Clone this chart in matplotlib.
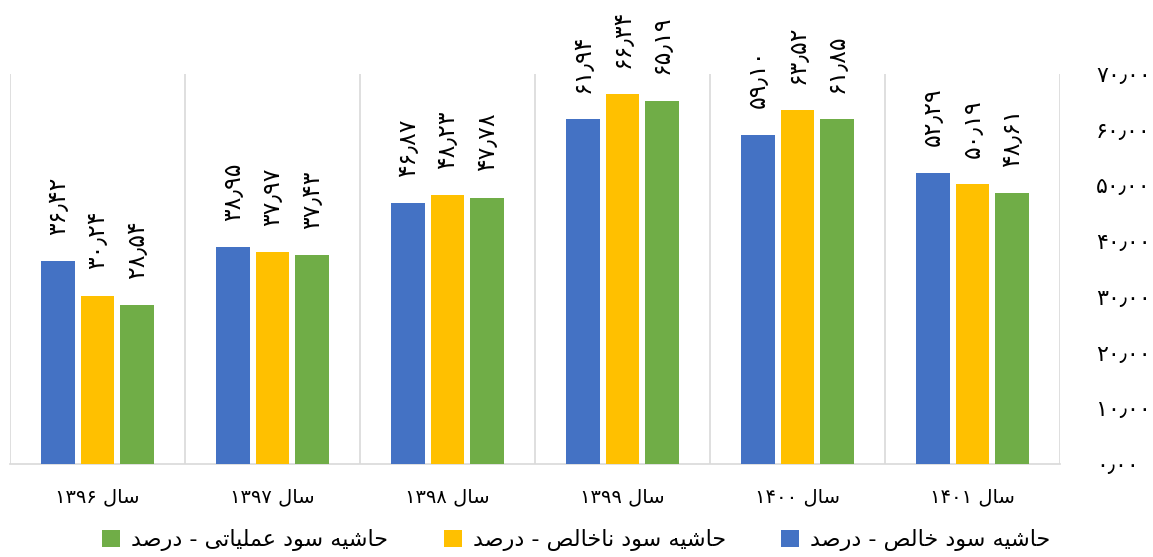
import re
import matplotlib
matplotlib.use('Agg')
import matplotlib.pyplot as plt
import numpy as np

plt.rcParams['font.family'] = ['DejaVu Sans']

years = ['سال ۱۳۹۶', 'سال ۱۳۹۷', 'سال ۱۳۹۸', 'سال ۱۳۹۹', 'سال ۱۴۰۰', 'سال ۱۴۰۱']
net_margin = [36.42, 38.95, 46.87, 61.94, 59.10, 52.29]
gross_margin = [30.24, 37.97, 48.23, 66.34, 63.52, 50.19]
operating_margin = [28.54, 37.43, 47.78, 65.19, 61.85, 48.61]
series_names = ['حاشیه سود خالص - درصد', 'حاشیه سود ناخالص - درصد', 'حاشیه سود عملیاتی - درصد']
colors = ['#4472C4', '#FFC000', '#70AD47']

# arabic presentation forms: isolated, final, initial, medial
FORMS = {
    'ا': ('\uFE8D', '\uFE8E', None, None),
    'د': ('\uFEA9', '\uFEAA', None, None),
    'ر': ('\uFEAD', '\uFEAE', None, None),
    'و': ('\uFEED', '\uFEEE', None, None),
    'ت': ('\uFE95', '\uFE96', '\uFE97', '\uFE98'),
    'ح': ('\uFEA1', '\uFEA2', '\uFEA3', '\uFEA4'),
    'خ': ('\uFEA5', '\uFEA6', '\uFEA7', '\uFEA8'),
    'س': ('\uFEB1', '\uFEB2', '\uFEB3', '\uFEB4'),
    'ش': ('\uFEB5', '\uFEB6', '\uFEB7', '\uFEB8'),
    'ص': ('\uFEB9', '\uFEBA', '\uFEBB', '\uFEBC'),
    'ع': ('\uFEC9', '\uFECA', '\uFECB', '\uFECC'),
    'ل': ('\uFEDD', '\uFEDE', '\uFEDF', '\uFEE0'),
    'م': ('\uFEE1', '\uFEE2', '\uFEE3', '\uFEE4'),
    'ن': ('\uFEE5', '\uFEE6', '\uFEE7', '\uFEE8'),
    'ه': ('\uFEE9', '\uFEEA', '\uFEEB', '\uFEEC'),
    'ی': ('\uFBFC', '\uFBFD', '\uFBFE', '\uFBFF'),
}


def dual(c):
    return c in FORMS and FORMS[c][2] is not None


def shape(text):
    out = []
    for i, c in enumerate(text):
        if c not in FORMS:
            out.append(c)
            continue
        prev = text[i - 1] if i > 0 else ''
        nxt = text[i + 1] if i + 1 < len(text) else ''
        jp = dual(prev)
        jn = dual(c) and nxt in FORMS
        f = FORMS[c]
        if jp and jn:
            out.append(f[3])
        elif jp:
            out.append(f[1])
        elif jn:
            out.append(f[2])
        else:
            out.append(f[0])
    return ''.join(out)


def rtl(text):
    s = shape(text)
    tokens = re.split('([۰-۹٫]+)', s)
    tokens = [t if re.fullmatch('[۰-۹٫]+', t) else t[::-1] for t in tokens if t]
    return ''.join(tokens[::-1])


def fa_num(v):
    return f'{v:.2f}'.translate(str.maketrans('0123456789.', '۰۱۲۳۴۵۶۷۸۹٫'))


fig = plt.figure(figsize=(11.53, 5.57), dpi=100)
ax = fig.add_axes([0.0087, 0.167, 0.9106, 0.70])

x = np.arange(len(years))
w = 0.19
offs = [-0.226, 0, 0.226]
for vals, off, col, name in zip([net_margin, gross_margin, operating_margin], offs, colors, series_names):
    ax.bar(x + off, vals, w, color=col, label=rtl(name), zorder=3)
    for xi, v in zip(x + off, vals):
        ax.annotate(fa_num(v), (xi, v), xytext=(0, 19), textcoords='offset points',
                    rotation=90, ha='center', va='bottom', fontsize=17, annotation_clip=False)

ax.set_xlim(-0.5, len(years) - 0.5)
ax.set_ylim(0, 70)
ax.set_xticks(x)
ax.set_xticklabels([rtl(y) for y in years], fontsize=14)
ax.set_xticks(np.arange(-0.5, len(years)), minor=True)
ax.grid(True, which='minor', axis='x', color='#D9D9D9', linewidth=1.2)
ax.tick_params(axis='x', which='both', length=0, pad=17)

yt = np.arange(0, 71, 10)
ax.yaxis.tick_right()
ax.set_yticks(yt)
ax.set_yticklabels([fa_num(v) for v in yt], fontsize=16)
ax.tick_params(axis='y', length=0, pad=26)

for s in ['top', 'left', 'right']:
    ax.spines[s].set_visible(False)
ax.spines['bottom'].set_color('#D9D9D9')
ax.spines['bottom'].set_linewidth(1.2)

h, l = ax.get_legend_handles_labels()
fig.legend(h[::-1], l[::-1], loc='lower center', bbox_to_anchor=(0.5, -0.025), ncol=3,
           frameon=False, fontsize=16, handlelength=0.8, handleheight=0.8,
           handletextpad=0.5, columnspacing=2.5)

fig.savefig('out.png', dpi=100)
